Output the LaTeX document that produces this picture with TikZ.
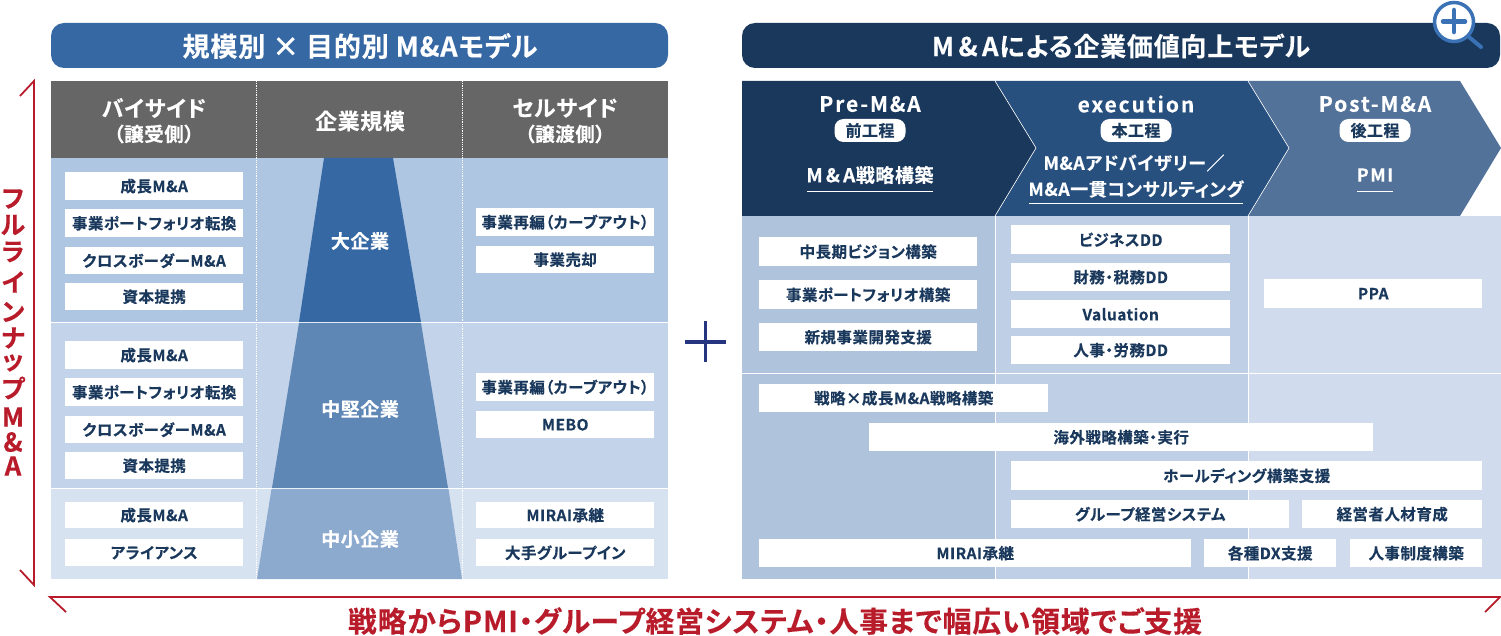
\documentclass[tikz,border=0pt]{standalone}
\usepackage{fontspec}
\setmainfont{Noto Sans CJK JP}
\newfontfamily\jpb[RawFeature={+palt},LetterSpace=3,FakeBold=0.25]{Noto Sans CJK JP Bold}
\newfontfamily\jpw[RawFeature={+palt},LetterSpace=9,FakeBold=0.2]{Noto Sans CJK JP Bold}
\definecolor{navy}{HTML}{19385C}
\definecolor{blue}{HTML}{3668A4}
\definecolor{midb}{HTML}{5F87B6}
\definecolor{lowb}{HTML}{8CA9CE}
\definecolor{rowa}{HTML}{AFC6E2}
\definecolor{rowb}{HTML}{C3D4EA}
\definecolor{rowc}{HTML}{D7E2F1}
\definecolor{head}{HTML}{666666}
\definecolor{cheva}{HTML}{19385C}
\definecolor{chevb}{HTML}{27507F}
\definecolor{chevc}{HTML}{527299}
\definecolor{cola}{HTML}{AFC3DD}
\definecolor{colb}{HTML}{BFCFE5}
\definecolor{colc}{HTML}{D0DCED}
\definecolor{redc}{HTML}{B81C2A}
\definecolor{plusc}{HTML}{26357F}
\definecolor{lensc}{HTML}{3A72B5}
\tikzset{
  txt/.style={inner sep=0pt,font=\jpb\fontsize{#1}{#1}\selectfont,align=center},
  wtxt/.style={inner sep=0pt,font=\jpw\fontsize{#1}{#1}\selectfont,align=center},
  wbox/.style={inner sep=0pt,fill=white,text=navy,font=\jpb\fontsize{15.5}{15.5}\selectfont},
  pilltag/.style={fill=white,text=navy,rounded corners=9pt,inner sep=0pt,minimum width=71pt,minimum height=23pt,font=\jpb\fontsize{16}{16}\selectfont}
}
\newcommand{\bx}[6][]{\node[wbox,minimum width=#5pt-#3pt,minimum height=#6pt-#4pt,anchor=north west] (#2) at (#3,#4) {#1};}
\begin{document}
\begin{tikzpicture}[x=1pt,y=-1pt]
\useasboundingbox (0,0) rectangle (1501,636);
% left pill
\fill[blue,rounded corners=13pt] (51,23) rectangle (668,68);
\node[txt=27,text=white] (tl) at (360,46) {規模別 × 目的別 M\&Aモデル};
% left table
\fill[head] (51,81) rectangle (668,158);
\fill[rowa] (51,158) rectangle (668,322);
\fill[rowb] (51,323) rectangle (668,488);
\fill[rowc] (51,489) rectangle (668,579);
\fill[blue] (324,158) -- (393,158) -- (421,322) -- (299,322) -- cycle;
\fill[midb] (299,323) -- (421,323) -- (448,488) -- (272,488) -- cycle;
\fill[lowb] (271.5,489) -- (448.5,489) -- (462,579) -- (257,579) -- cycle;
\draw[white,densely dotted,line width=.8pt] (256.5,81) -- (256.5,579) (462.5,81) -- (462.5,579);
\node[txt=22,text=white] (h1) at (154,108) {バイサイド};
\node[txt=19.5,text=white] (h1b) at (154,134) {（譲受側）};
\node[txt=22,text=white] (h2) at (360,121) {企業規模};
\node[txt=22,text=white] (h3) at (565,108) {セルサイド};
\node[txt=19.5,text=white] (h3b) at (565,134) {（譲渡側）};
\node[txt=19,text=white] (s1) at (360,241) {大企業};
\node[txt=19,text=white] (s2) at (360,409) {中堅企業};
\node[txt=19,text=white] (s3) at (360,539) {中小企業};
\bx[成長M\&A]{a1}{65}{172}{243}{200}
\bx[事業ポートフォリオ転換]{a2}{65}{209}{243}{237}
\bx[クロスボーダーM\&A]{a3}{65}{247}{243}{274}
\bx[資本提携]{a4}{65}{283}{243}{310}
\bx[成長M\&A]{b1}{65}{341}{243}{369}
\bx[事業ポートフォリオ転換]{b2}{65}{378}{243}{406}
\bx[クロスボーダーM\&A]{b3}{65}{416}{243}{443}
\bx[資本提携]{b4}{65}{452}{243}{479}
\bx[成長M\&A]{c1}{65}{502}{243}{528}
\bx[アライアンス]{c2}{65}{539}{243}{566}
\bx[事業再編（カーブアウト）]{d1}{476}{208}{654}{236}
\bx[事業売却]{d2}{476}{246}{654}{273}
\bx[事業再編（カーブアウト）]{e1}{476}{373}{654}{401}
\bx[MEBO]{e2}{476}{411}{654}{438}
\bx[MIRAI承継]{f1}{476}{502}{654}{528}
\bx[大手グループイン]{f2}{476}{539}{654}{566}
% plus
\draw[plusc,line width=3.4pt] (685,342) -- (726,342) (705.5,321) -- (705.5,362);
% right pill
\fill[navy,rounded corners=13pt] (742,23) rectangle (1500,68);
\node[txt=26,text=white] (tr) at (1121,46) {M\,\&\,Aによる企業価値向上モデル};
% right body
\fill[cola] (742,216) rectangle (995,579);
\fill[colb] (995,216) rectangle (1248,579);
\fill[colc] (1248,216) rectangle (1501,579);
\draw[white,line width=.7pt] (742,373) -- (1501,373) (995,216) -- (995,579) (1248,216) -- (1248,579);
% chevrons
\fill[chevc] (1248,81) -- (1460,81) -- (1501,148) -- (1460,216) -- (1248,216) -- (1289,148) -- cycle;
\fill[chevb] (995,81) -- (1248,81) -- (1289,148) -- (1248,216) -- (995,216) -- (1036,148) -- cycle;
\fill[cheva] (742,81) -- (995,81) -- (1036,148) -- (995,216) -- (742,216) -- cycle;
\draw[white,line width=.6pt] (995,81) -- (1036,148) -- (995,216) (1248,81) -- (1289,148) -- (1248,216);
\node[wtxt=21,text=white] (p1) at (870,104) {Pre-M\&A};
\node[wtxt=21,text=white] (p2) at (1136,104) {execution};
\node[wtxt=21,text=white] (p3) at (1375,104) {Post-M\&A};
\node[pilltag] (t1) at (870,130.5) {前工程};
\node[pilltag] (t2) at (1136,130.5) {本工程};
\node[pilltag] (t3) at (1375,130.5) {後工程};
\node[txt=19,text=white] (m1) at (870,175) {M\,\&\,A戦略構築};
\node[txt=18,text=white] (m2a) at (1134,163) {M\&Aアドバイザリー／};
\node[txt=18,text=white] (m2b) at (1136,189) {M\&A一貫コンサルティング};
\node[wtxt=18,text=white] (m3) at (1375,175) {PMI};
\draw[white,line width=.6pt] (807,191) -- (933,191) (1029,203) -- (1243,203) (1357,191) -- (1393,191);
% right boxes
\bx[中長期ビジョン構築]{r1}{759}{237}{977}{266}
\bx[事業ポートフォリオ構築]{r2}{759}{280}{977}{309}
\bx[新規事業開発支援]{r3}{759}{323}{977}{351}
\bx[ビジネスDD]{r4}{1011}{225}{1230}{254}
\bx[財務・税務DD]{r5}{1011}{263}{1230}{291}
\bx[Valuation]{r6}{1011}{300}{1230}{328}
\bx[人事・労務DD]{r7}{1011}{336}{1230}{364}
\bx[PPA]{r8}{1264}{279}{1482}{308}
\bx[戦略×成長M\&A戦略構築]{r9}{759}{384}{1048}{412}
\bx[海外戦略構築・実行]{r10}{869}{423}{1373}{451}
\bx[ホールディング構築支援]{r11}{1011}{461}{1482}{490}
\bx[グループ経営システム]{r12}{1011}{500}{1289}{528}
\bx[経営者人材育成]{r13}{1302}{500}{1482}{528}
\bx[MIRAI承継]{r14}{759}{539}{1191}{567}
\bx[各種DX支援]{r15}{1204}{539}{1336}{567}
\bx[人事制度構築]{r16}{1350}{539}{1482}{567}
% magnifier
\draw[lensc,line width=4pt,line cap=round] (1469,37) -- (1481,47);
\draw[lensc,fill=white,line width=3.5pt] (1454,22) circle (19.5pt);
\draw[lensc,line width=4.5pt,line cap=round] (1443,21.5) -- (1465,21.5) (1454,10) -- (1454,32);
% red arrows
\draw[redc,line width=1.8pt] (20,96) -- (34,81) -- (34,585) -- (20,570);
\draw[redc,line width=1.8pt] (66,612) -- (50,597) -- (1500,597) -- (1485,612);
\foreach \ch/\yy/\sz/\nm in {フ/199/25/v1,ル/225/25/v2,ラ/252/25/v3,イ/282/25/v4,ン/312/25/v5,ナ/338/25/v6,ッ/363/25/v7,プ/388/25/v8,M/417/26/v9,\&/442/26/v10,A/466/26/v11}
  \node[txt=\sz,text=redc] (\nm) at (13,\yy) {\ch};
\node[txt=28.8,text=redc] (bt) at (775,621) {戦略からPMI・グループ経営システム・人事まで幅広い領域でご支援};
\end{tikzpicture}
\end{document}
